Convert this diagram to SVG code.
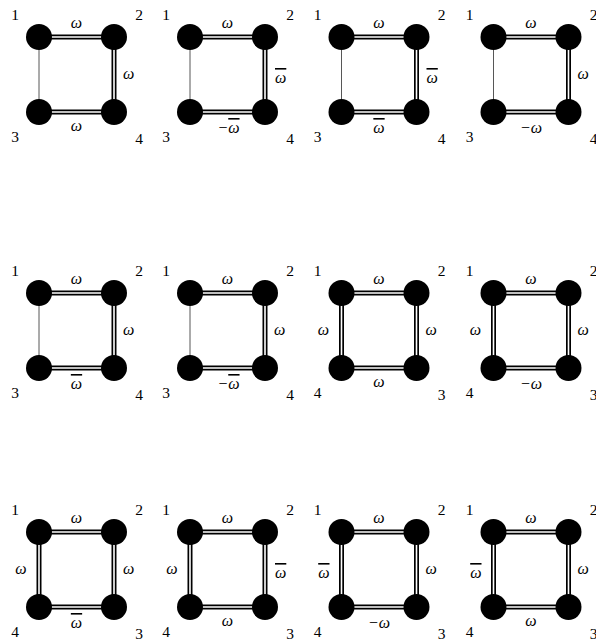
<svg xmlns="http://www.w3.org/2000/svg" width="596" height="643" viewBox="0 0 596 643">
<style>
.o{fill:none;stroke:#000;stroke-width:5}
.i{fill:none;stroke:#fff;stroke-width:1.6}
.s{fill:none;stroke:#444;stroke-width:0.9}
circle{fill:#000}
.num{font-family:"Liberation Serif",serif;font-size:15.5px;fill:#000;text-anchor:middle}
.lab{font-family:"Liberation Serif",serif;font-style:italic;font-size:16px;fill:#000}
.m{text-anchor:middle}
.e{text-anchor:end}
.ov{text-decoration:overline}
</style>
<rect width="596" height="643" fill="#fff"/>
<g id="connectors">
<path class="s" d="M39 37V112M190 37V112M341.5 37V112M493.5 37V112M39 293V368M190 293V368"/>
<path class="o" d="M39 37H114V112H39M190 37H265V112H190M341.5 37H416.5V112H341.5M493.5 37H568.5V112H493.5M39 293H114V368H39M190 293H265V368H190M341.5 293H416.5V368H341.5ZM493.5 293H568.5V368H493.5ZM39 532H114V607H39ZM190 532H265V607H190ZM341.5 532H416.5V607H341.5ZM493.5 532H568.5V607H493.5Z"/>
<path class="i" d="M39 37H114V112H39M190 37H265V112H190M341.5 37H416.5V112H341.5M493.5 37H568.5V112H493.5M39 293H114V368H39M190 293H265V368H190M341.5 293H416.5V368H341.5ZM493.5 293H568.5V368H493.5ZM39 532H114V607H39ZM190 532H265V607H190ZM341.5 532H416.5V607H341.5ZM493.5 532H568.5V607H493.5Z"/>
<text class="lab m" x="76.5" y="28">ω</text>
<text class="lab" x="123" y="78.5">ω</text>
<text class="lab m" x="76.5" y="130.5">ω</text>
<text class="lab m" x="227.5" y="28">ω</text>
<text class="lab" x="275" y="83"><tspan class="ov">ω</tspan></text>
<text class="lab m" x="228.5" y="133">−<tspan class="ov">ω</tspan></text>
<text class="lab m" x="379" y="28">ω</text>
<text class="lab" x="426.5" y="83"><tspan class="ov">ω</tspan></text>
<text class="lab m" x="379" y="133"><tspan class="ov">ω</tspan></text>
<text class="lab m" x="531" y="28">ω</text>
<text class="lab" x="577.5" y="78.5">ω</text>
<text class="lab m" x="531" y="133">−ω</text>
<text class="lab m" x="76.5" y="284">ω</text>
<text class="lab" x="123" y="334.5">ω</text>
<text class="lab m" x="76.5" y="389"><tspan class="ov">ω</tspan></text>
<text class="lab m" x="227.5" y="284">ω</text>
<text class="lab" x="274" y="334.5">ω</text>
<text class="lab m" x="228.5" y="389">−<tspan class="ov">ω</tspan></text>
<text class="lab m" x="379" y="284">ω</text>
<text class="lab e" x="329" y="334.5">ω</text>
<text class="lab" x="425.5" y="334.5">ω</text>
<text class="lab m" x="379" y="386.5">ω</text>
<text class="lab m" x="531" y="284">ω</text>
<text class="lab e" x="481" y="334.5">ω</text>
<text class="lab" x="577.5" y="334.5">ω</text>
<text class="lab m" x="531" y="389">−ω</text>
<text class="lab m" x="76.5" y="523">ω</text>
<text class="lab e" x="26.5" y="573.5">ω</text>
<text class="lab" x="123" y="573.5">ω</text>
<text class="lab m" x="76.5" y="628"><tspan class="ov">ω</tspan></text>
<text class="lab m" x="227.5" y="523">ω</text>
<text class="lab e" x="177.5" y="573.5">ω</text>
<text class="lab" x="275" y="578"><tspan class="ov">ω</tspan></text>
<text class="lab m" x="227.5" y="625.5">ω</text>
<text class="lab m" x="379" y="523">ω</text>
<text class="lab e" x="329.5" y="578"><tspan class="ov">ω</tspan></text>
<text class="lab" x="425.5" y="573.5">ω</text>
<text class="lab m" x="379" y="628">−ω</text>
<text class="lab m" x="531" y="523">ω</text>
<text class="lab e" x="481.5" y="578"><tspan class="ov">ω</tspan></text>
<text class="lab" x="577.5" y="573.5">ω</text>
<text class="lab m" x="531" y="625.5">ω</text>
</g>
<g id="p1-n1"><circle cx="39" cy="37" r="13"/><text class="num" x="15" y="19.5">1</text></g>
<g id="p1-n2"><circle cx="114" cy="37" r="13"/><text class="num" x="139" y="19.5">2</text></g>
<g id="p1-n3"><circle cx="39" cy="112" r="13"/><text class="num" x="15" y="142">3</text></g>
<g id="p1-n4"><circle cx="114" cy="112" r="13"/><text class="num" x="139" y="144">4</text></g>
<g id="p2-n1"><circle cx="190" cy="37" r="13"/><text class="num" x="166" y="19.5">1</text></g>
<g id="p2-n2"><circle cx="265" cy="37" r="13"/><text class="num" x="290" y="19.5">2</text></g>
<g id="p2-n3"><circle cx="190" cy="112" r="13"/><text class="num" x="166" y="142">3</text></g>
<g id="p2-n4"><circle cx="265" cy="112" r="13"/><text class="num" x="290" y="144">4</text></g>
<g id="p3-n1"><circle cx="341.5" cy="37" r="13"/><text class="num" x="317.5" y="19.5">1</text></g>
<g id="p3-n2"><circle cx="416.5" cy="37" r="13"/><text class="num" x="441.5" y="19.5">2</text></g>
<g id="p3-n3"><circle cx="341.5" cy="112" r="13"/><text class="num" x="317.5" y="142">3</text></g>
<g id="p3-n4"><circle cx="416.5" cy="112" r="13"/><text class="num" x="441.5" y="144">4</text></g>
<g id="p4-n1"><circle cx="493.5" cy="37" r="13"/><text class="num" x="469.5" y="19.5">1</text></g>
<g id="p4-n2"><circle cx="568.5" cy="37" r="13"/><text class="num" x="593.5" y="19.5">2</text></g>
<g id="p4-n3"><circle cx="493.5" cy="112" r="13"/><text class="num" x="469.5" y="142">3</text></g>
<g id="p4-n4"><circle cx="568.5" cy="112" r="13"/><text class="num" x="593.5" y="144">4</text></g>
<g id="p5-n1"><circle cx="39" cy="293" r="13"/><text class="num" x="15" y="275.5">1</text></g>
<g id="p5-n2"><circle cx="114" cy="293" r="13"/><text class="num" x="139" y="275.5">2</text></g>
<g id="p5-n3"><circle cx="39" cy="368" r="13"/><text class="num" x="15" y="398">3</text></g>
<g id="p5-n4"><circle cx="114" cy="368" r="13"/><text class="num" x="139" y="400">4</text></g>
<g id="p6-n1"><circle cx="190" cy="293" r="13"/><text class="num" x="166" y="275.5">1</text></g>
<g id="p6-n2"><circle cx="265" cy="293" r="13"/><text class="num" x="290" y="275.5">2</text></g>
<g id="p6-n3"><circle cx="190" cy="368" r="13"/><text class="num" x="166" y="398">3</text></g>
<g id="p6-n4"><circle cx="265" cy="368" r="13"/><text class="num" x="290" y="400">4</text></g>
<g id="p7-n1"><circle cx="341.5" cy="293" r="13"/><text class="num" x="317.5" y="275.5">1</text></g>
<g id="p7-n2"><circle cx="416.5" cy="293" r="13"/><text class="num" x="441.5" y="275.5">2</text></g>
<g id="p7-n4"><circle cx="341.5" cy="368" r="13"/><text class="num" x="317.5" y="398">4</text></g>
<g id="p7-n3"><circle cx="416.5" cy="368" r="13"/><text class="num" x="441.5" y="400">3</text></g>
<g id="p8-n1"><circle cx="493.5" cy="293" r="13"/><text class="num" x="469.5" y="275.5">1</text></g>
<g id="p8-n2"><circle cx="568.5" cy="293" r="13"/><text class="num" x="593.5" y="275.5">2</text></g>
<g id="p8-n4"><circle cx="493.5" cy="368" r="13"/><text class="num" x="469.5" y="398">4</text></g>
<g id="p8-n3"><circle cx="568.5" cy="368" r="13"/><text class="num" x="593.5" y="400">3</text></g>
<g id="p9-n1"><circle cx="39" cy="532" r="13"/><text class="num" x="15" y="514.5">1</text></g>
<g id="p9-n2"><circle cx="114" cy="532" r="13"/><text class="num" x="139" y="514.5">2</text></g>
<g id="p9-n4"><circle cx="39" cy="607" r="13"/><text class="num" x="15" y="637">4</text></g>
<g id="p9-n3"><circle cx="114" cy="607" r="13"/><text class="num" x="139" y="639">3</text></g>
<g id="p10-n1"><circle cx="190" cy="532" r="13"/><text class="num" x="166" y="514.5">1</text></g>
<g id="p10-n2"><circle cx="265" cy="532" r="13"/><text class="num" x="290" y="514.5">2</text></g>
<g id="p10-n4"><circle cx="190" cy="607" r="13"/><text class="num" x="166" y="637">4</text></g>
<g id="p10-n3"><circle cx="265" cy="607" r="13"/><text class="num" x="290" y="639">3</text></g>
<g id="p11-n1"><circle cx="341.5" cy="532" r="13"/><text class="num" x="317.5" y="514.5">1</text></g>
<g id="p11-n2"><circle cx="416.5" cy="532" r="13"/><text class="num" x="441.5" y="514.5">2</text></g>
<g id="p11-n4"><circle cx="341.5" cy="607" r="13"/><text class="num" x="317.5" y="637">4</text></g>
<g id="p11-n3"><circle cx="416.5" cy="607" r="13"/><text class="num" x="441.5" y="639">3</text></g>
<g id="p12-n1"><circle cx="493.5" cy="532" r="13"/><text class="num" x="469.5" y="514.5">1</text></g>
<g id="p12-n2"><circle cx="568.5" cy="532" r="13"/><text class="num" x="593.5" y="514.5">2</text></g>
<g id="p12-n4"><circle cx="493.5" cy="607" r="13"/><text class="num" x="469.5" y="637">4</text></g>
<g id="p12-n3"><circle cx="568.5" cy="607" r="13"/><text class="num" x="593.5" y="639">3</text></g>
</svg>
